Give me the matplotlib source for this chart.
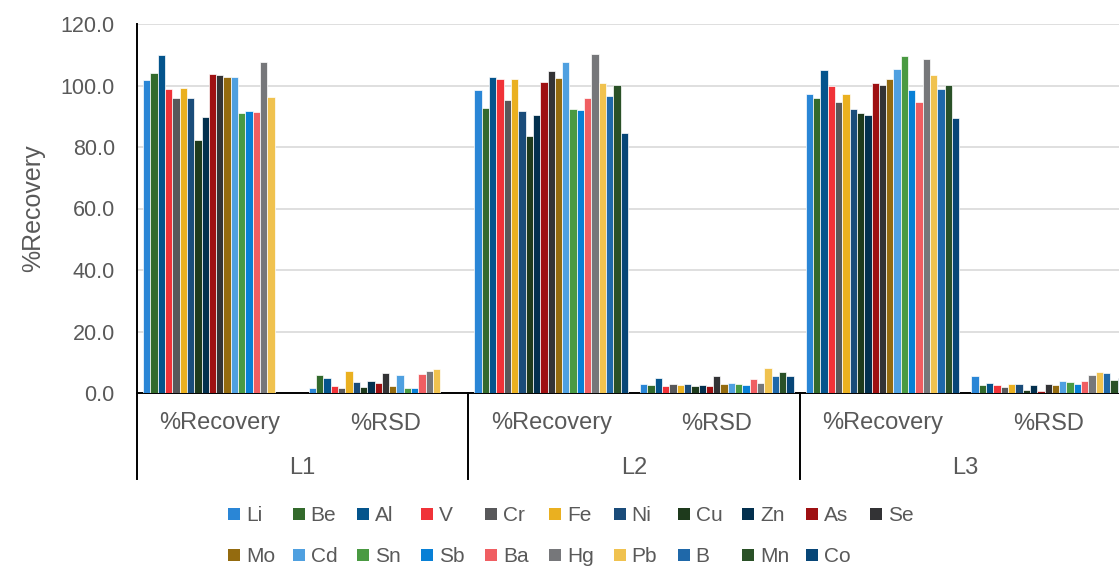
import numpy as np
import matplotlib
matplotlib.use("Agg")
import matplotlib.pyplot as plt
from matplotlib.patches import Rectangle
from matplotlib.transforms import blended_transform_factory

plt.rcParams["font.family"] = ["Liberation Sans", "DejaVu Sans"]

# ---- data -------------------------------------------------------------
elements = ["Li", "Be", "Al", "V", "Cr", "Fe", "Ni", "Cu", "Zn", "As", "Se",
            "Mo", "Cd", "Sn", "Sb", "Ba", "Hg", "Pb", "B", "Mn", "Co"]
colors = ["#2A86D6", "#336A2C", "#04548C", "#F03238", "#58585A", "#EAB020",
          "#1A4C7A", "#1E3A1C", "#03304E", "#9E1012", "#333335", "#946B0F",
          "#4FA0E0", "#4A9A42", "#0880D6", "#F05E62", "#76777A", "#F0C24F",
          "#1F68A9", "#2A5127", "#074677"]
levels = ["L1", "L2", "L3"]
measures = ["%Recovery", "%RSD"]
nan = np.nan

l1_recovery = [101.8, 104.0, 109.8, 99.0, 96.0, 99.2, 96.0, 82.3, 89.8, 103.8, 103.3,
               102.7, 102.9, 90.9, 91.8, 91.5, 107.8, 96.4, nan, nan, nan]
l1_rsd = [1.6, 5.9, 5.0, 2.3, 1.6, 7.1, 3.7, 2.0, 4.0, 3.2, 6.6,
          2.2, 6.0, 1.6, 1.6, 6.2, 7.1, 7.8, nan, nan, nan]
l2_recovery = [98.5, 92.8, 102.9, 102.1, 95.4, 102.0, 91.7, 83.6, 90.3, 101.3, 104.8,
               102.6, 107.8, 92.2, 92.0, 95.8, 110.3, 100.7, 96.7, 100.3, 84.5]
l2_rsd = [3.0, 2.6, 4.9, 2.2, 2.8, 2.7, 2.8, 2.4, 2.5, 2.4, 5.4,
          3.0, 3.4, 2.8, 2.5, 4.6, 3.4, 8.0, 5.4, 6.7, 5.4]
l3_recovery = [97.1, 96.0, 105.0, 100.0, 94.6, 97.3, 92.3, 91.1, 90.4, 100.9, 100.1,
               102.1, 105.5, 109.5, 98.5, 94.6, 108.5, 103.4, 98.7, 100.2, 89.5]
l3_rsd = [5.4, 2.5, 3.2, 2.5, 2.0, 2.8, 2.8, 0.9, 2.5, 0.8, 2.8,
          2.6, 3.9, 3.7, 2.8, 3.8, 5.7, 6.8, 6.4, 4.3, 5.0]

yticks = [0, 20, 40, 60, 80, 100, 120]

# ---- figure -----------------------------------------------------------
W, H = 1119, 569
fig = plt.figure(figsize=(W / 100, H / 100), dpi=100)
fig.patch.set_facecolor("white")

x0, x1, ytop, ybot = 137, 1131, 24, 393
ax = fig.add_axes([x0 / W, 1 - ybot / H, (x1 - x0) / W, (ybot - ytop) / H])

text_color = "#595959"
table = np.array([l1_recovery, l1_rsd, l2_recovery, l2_rsd, l3_recovery, l3_rsd])
xpos = np.arange(table.shape[0])
n = len(elements)
pitch = 0.929 / n

for j, (name, col) in enumerate(zip(elements, colors)):
    ax.bar(xpos + (j - (n - 1) / 2) * pitch, table[:, j], width=pitch,
           color=col, edgecolor="white", linewidth=0.5, zorder=3)

ax.set_xlim(-0.5, len(xpos) - 0.5)
ax.set_ylim(0, 120)
ax.set_yticks(yticks)
ax.set_yticklabels([f"{v:.1f}" for v in yticks])
ax.tick_params(axis="y", length=0, pad=16, labelsize=15.5, labelcolor=text_color)
ax.set_xticks([])

ax.yaxis.grid(True, color="#D9D9D9", linewidth=1.2, zorder=0)
ax.set_axisbelow(True)
for side in ("top", "right"):
    ax.spines[side].set_visible(False)
for side in ("left", "bottom"):
    ax.spines[side].set_color("black")
    ax.spines[side].set_linewidth(1.4)

# two-level category axis
blend = blended_transform_factory(ax.transData, ax.transAxes)
axh = ybot - ytop
for i, x in enumerate(xpos):
    ax.text(x, -(429.5 - ybot) / axh, measures[i % 2], transform=blend,
            ha="center", va="baseline", fontsize=17, color=text_color)
for k, lev in enumerate(levels):
    ax.text(2 * k + 0.5, -(473.5 - ybot) / axh, lev, transform=blend,
            ha="center", va="baseline", fontsize=17, color=text_color)
for xb in np.arange(-0.5, len(xpos), 2):
    ax.plot([xb, xb], [0, -(479 - ybot) / axh], transform=blend,
            color="black", linewidth=1.4, clip_on=False, zorder=5)

# y-axis title
fig.text(33 / W, 1 - 208 / H, "%Recovery", rotation=90, ha="center", va="center",
         fontsize=18, color=text_color)

# legend laid out on a fixed grid
ncol = 11
for i, (name, col) in enumerate(zip(elements, colors)):
    r, c = divmod(i, ncol)
    lx = 228.3 + c * 64.2
    cy = 514 + r * 41
    fig.add_artist(Rectangle((lx / W, 1 - (cy + 6) / H), 12 / W, 12 / H,
                             transform=fig.transFigure, facecolor=col,
                             edgecolor="none"))
    fig.text((lx + 18) / W, 1 - (cy + 7.2) / H, name, ha="left", va="baseline",
             fontsize=15, color=text_color)

fig.savefig("out.png", dpi=100, facecolor="white")
